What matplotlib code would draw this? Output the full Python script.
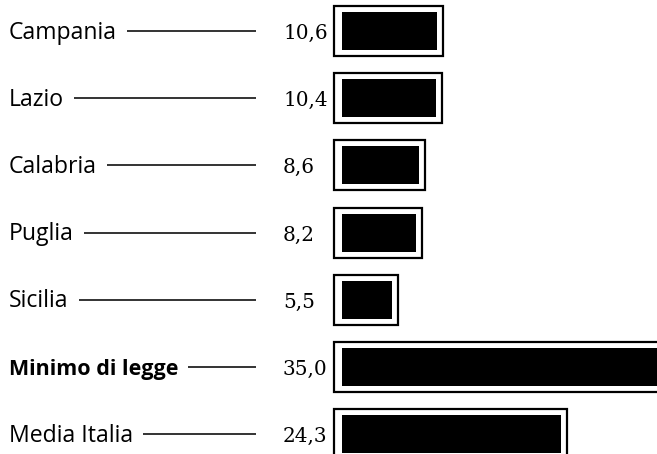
import matplotlib
matplotlib.use("Agg")
import matplotlib.pyplot as plt
import numpy as np

regions = ["Campania", "Lazio", "Calabria", "Puglia", "Sicilia",
           "Minimo di legge", "Media Italia"]
values = [10.6, 10.4, 8.6, 8.2, 5.5, 35.0, 24.3]
value_labels = ["10,6", "10,4", "8,6", "8,2", "5,5", "35,0", "24,3"]
bold_rows = ["Minimo di legge"]

W, H, DPI = 657, 454, 100
fig = plt.figure(figsize=(W / DPI, H / DPI), dpi=DPI)
ax = fig.add_axes([0, 0, 1, 1])
ax.axis("off")

# pixel geometry of the layout
px_per_unit = 9.0
zero_px = 342
row_px = 67.2
first_row_px = 31

ax.set_xlim(-zero_px / px_per_unit, (W - zero_px) / px_per_unit)
ax.set_ylim((H - first_row_px) / row_px, -first_row_px / row_px)


def px2x(px):
    return (px - zero_px) / px_per_unit


def dy(px):
    return px / row_px


y = np.arange(len(regions))
vals = np.array(values)

# framed bars: white box with black outline, black bar inside
pad_l = 8 / px_per_unit
pad_r = 6 / px_per_unit
ax.barh(y, vals + pad_l + pad_r, left=-pad_l, height=dy(50),
        color="white", edgecolor="black", linewidth=1.6, zorder=2)
ax.barh(y, vals, left=0, height=dy(38), color="black", zorder=3)

# value labels
for yi, lab in zip(y, value_labels):
    ax.text(px2x(283), yi + dy(8), lab, family="DejaVu Serif", fontsize=14.4,
            ha="left", va="baseline", color="black")

# region names with leader lines
texts = []
for yi, name in zip(y, regions):
    is_bold = name in bold_rows
    t = ax.text(px2x(9), yi + dy(7.5), name, family="Open Sans",
                fontsize=15.5 if is_bold else 16.6, ha="left", va="baseline",
                color="black", fontweight="bold" if is_bold else "normal")
    texts.append(t)

fig.canvas.draw()
renderer = fig.canvas.get_renderer()
inv = ax.transData.inverted()
for yi, t in zip(y, texts):
    bb = t.get_window_extent(renderer)
    x_start = inv.transform((bb.x1 + 10, 0))[0]
    ax.plot([x_start, px2x(256)], [yi, yi], color="#111111", lw=1.2,
            solid_capstyle="butt", zorder=1)

fig.savefig("out.png", dpi=DPI, facecolor="white")
